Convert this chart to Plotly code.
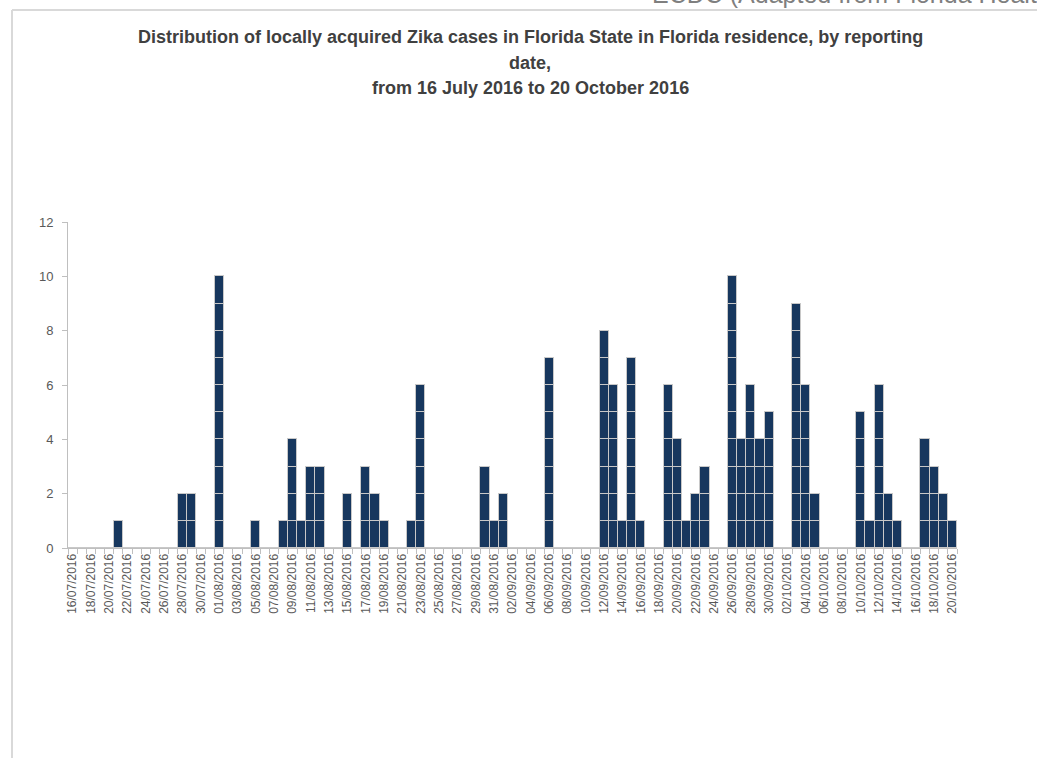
import pandas as pd
import plotly.graph_objects as go

# ---- data ----
start_date = "2016-07-16"
end_date = "2016-10-20"
dates = pd.date_range(start_date, end_date, freq="D")

# cases per reporting date (non-zero days listed, all others 0)
case_dates = [
    "2016-07-21", "2016-07-28", "2016-07-29", "2016-08-01", "2016-08-05",
    "2016-08-08", "2016-08-09", "2016-08-10", "2016-08-11", "2016-08-12",
    "2016-08-15", "2016-08-17", "2016-08-18", "2016-08-19", "2016-08-22",
    "2016-08-23", "2016-08-30", "2016-08-31", "2016-09-01", "2016-09-06",
    "2016-09-12", "2016-09-13", "2016-09-14", "2016-09-15", "2016-09-16",
    "2016-09-19", "2016-09-20", "2016-09-21", "2016-09-22", "2016-09-23",
    "2016-09-26", "2016-09-27", "2016-09-28", "2016-09-29", "2016-09-30",
    "2016-10-03", "2016-10-04", "2016-10-05", "2016-10-10", "2016-10-11",
    "2016-10-12", "2016-10-13", "2016-10-14", "2016-10-17", "2016-10-18",
    "2016-10-19", "2016-10-20",
]
case_counts = [
    1, 2, 2, 10, 1,
    1, 4, 1, 3, 3,
    2, 3, 2, 1, 1,
    6, 3, 1, 2, 7,
    8, 6, 1, 7, 1,
    6, 4, 1, 2, 3,
    10, 4, 6, 4, 5,
    9, 6, 2, 5, 1,
    6, 2, 1, 4, 3,
    2, 1,
]

y_ticks = [0, 2, 4, 6, 8, 10, 12]

title_lines = [
    "Distribution of locally acquired Zika cases in Florida State in Florida residence, by reporting",
    "date,",
    "from 16 July 2016 to 20 October 2016",
]
source_text = "ECDC (Adapted from Florida Health)"

# ---- build series ----
counts = pd.Series(0, index=dates)
counts[pd.to_datetime(case_dates)] = case_counts
max_cases = int(counts.max())

BAR = "#17375E"
EDGE = "#C8C8C8"
GREY_TXT = "#595959"

fig = go.Figure()
# one case = one box: stack unit-height cells
for level in range(1, max_cases + 1):
    yv = [1 if v >= level else 0 for v in counts.values]
    fig.add_trace(go.Bar(
        x=counts.index, y=yv,
        marker=dict(color=BAR, line=dict(color=EDGE, width=1)),
        showlegend=False, hoverinfo="skip",
    ))

L, R, T, B = 68, 80, 222, 210
W, H = 1037, 758
pw, ph = W - L - R, H - T - B

def px_x(px):
    return (px - L) / pw

def px_y(py):
    return (H - B - py) / ph

annotations = []
title_y = [37, 63, 88]
for txt, yy in zip(title_lines, title_y):
    annotations.append(dict(
        text="<b>" + txt + "</b>", x=px_x(530), y=px_y(yy), xref="paper", yref="paper",
        xanchor="center", yanchor="middle", showarrow=False,
        font=dict(family="Liberation Sans", size=18, color="#404040"),
    ))
annotations.append(dict(
    text=source_text, x=px_x(650), y=px_y(10), xref="paper", yref="paper",
    xanchor="left", yanchor="bottom", showarrow=False,
    font=dict(family="Liberation Sans", size=25, color="#7F7F7F"),
))

shapes = [
    dict(type="line", xref="paper", yref="paper", x0=px_x(12), x1=px_x(12),
         y0=px_y(10), y1=px_y(760), line=dict(color="#D9D9D9", width=2)),
    dict(type="line", xref="paper", yref="paper", x0=px_x(12), x1=px_x(1040),
         y0=px_y(10), y1=px_y(10), line=dict(color="#D9D9D9", width=2)),
]

fig.update_layout(
    width=W, height=H,
    margin=dict(l=L, r=R, t=T, b=B),
    paper_bgcolor="white", plot_bgcolor="white",
    barmode="stack", bargap=0,
    annotations=annotations, shapes=shapes,
    font=dict(family="Liberation Sans", color=GREY_TXT),
)
fig.update_xaxes(
    type="date",
    range=[dates[0] - pd.Timedelta(hours=12), dates[-1] + pd.Timedelta(hours=12)],
    tick0=start_date, dtick=2 * 86400000, tickformat="%d/%m/%Y",
    tickangle=-90, ticks="outside", ticklen=0,
    tickfont=dict(size=12, color=GREY_TXT),
    showline=True, linecolor="#BFBFBF", linewidth=1, showgrid=False, zeroline=False,
    minor=dict(ticks="outside", ticklen=5, tickcolor="#BFBFBF", dtick=86400000,
               tick0=(dates[0] - pd.Timedelta(hours=12)).strftime("%Y-%m-%d %H:%M"),
               showgrid=False),
)
fig.update_yaxes(
    range=[0, 12], tickvals=y_ticks, ticks="outside", ticklen=5, tickcolor="#BFBFBF",
    tickfont=dict(size=13, color=GREY_TXT), ticklabelstandoff=6,
    showline=True, linecolor="#BFBFBF", linewidth=1, showgrid=False, zeroline=False,
)

fig.write_html("out.html", config={"displayModeBar": False},
               post_script="document.body.style.margin='0';")
